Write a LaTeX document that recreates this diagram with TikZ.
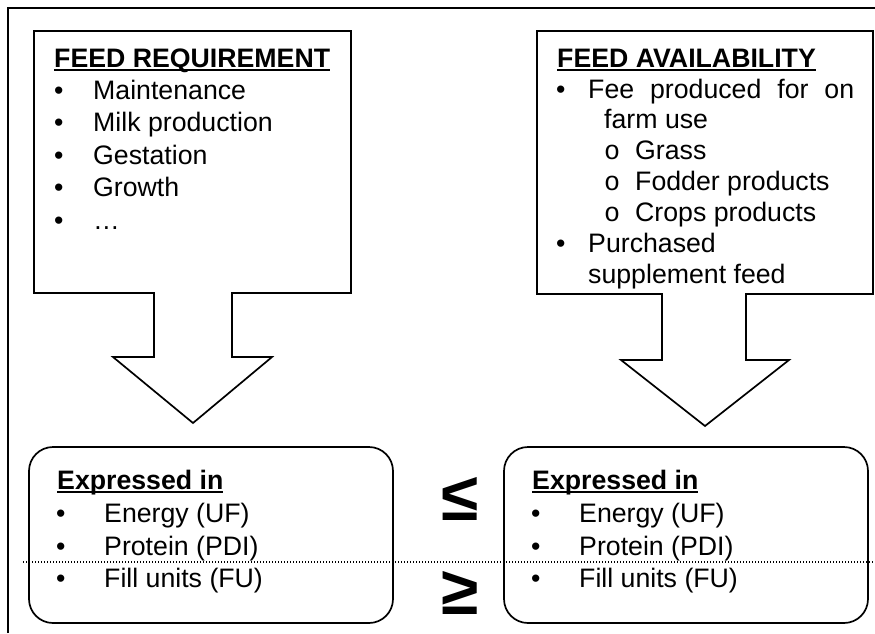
\documentclass[tikz,border=0pt]{standalone}
\usepackage{fontspec}
\setmainfont{Liberation Sans}
\newfontfamily\monof{Liberation Mono}
\newcommand\ulbox[1]{\setbox0=\hbox{#1}\rlap{\rule[-4.4pt]{\wd0}{2.3pt}}\box0}
\tikzset{
  outline/.style={draw=black, line width=1.7pt, line join=miter},
  txt/.style={anchor=base west, inner sep=0pt, font=\fontsize{26.7}{32}\selectfont},
  ttl/.style={txt, font=\fontsize{26.7}{32}\selectfont\bfseries},
  sym/.style={anchor=center, inner sep=0pt, font=\fontsize{68}{68}\selectfont\bfseries},
  dotline/.style={line width=1.3pt, dash pattern=on 1.2pt off 1.8pt}
}
\begin{document}
\begin{tikzpicture}[x=1pt,y=-1pt]
\useasboundingbox (0,0) rectangle (875,633);
% outer frame (cropped)
\draw[line width=1.7pt] (8,633) -- (8,8) -- (875,8);
% left callout with arrow
\draw[outline] (34,31) -- (351,31) -- (351,293) -- (232,293) -- (232,357) -- (272,357) -- (193,423) -- (113,357) -- (154,357) -- (154,293) -- (34,293) -- cycle;
% right callout with arrow
\draw[outline] (537,31) -- (873,31) -- (873,294) -- (746,294) -- (746,360) -- (789,360) -- (705,426) -- (621,360) -- (662,360) -- (662,294) -- (537,294) -- cycle;
% rounded boxes
\draw[outline, rounded corners=24pt] (29,447) rectangle (393,623);
\draw[outline, rounded corners=24pt] (504,447) rectangle (868,623);
% dotted line
\draw[dotline] (23,562) -- (875,562);
% left top text
\node[ttl] (rq) at (54,67) {\ulbox{FEED REQUIREMENT}};
\node[txt] (rqb1) at (54,99) {•};
\node[txt] (rq1) at (93,99) {Maintenance};
\node[txt] (rqb2) at (54,131.5) {•};
\node[txt] (rq2) at (93,131.5) {Milk production};
\node[txt] (rqb3) at (54,164) {•};
\node[txt] (rq3) at (93,164) {Gestation};
\node[txt] (rqb4) at (54,196.5) {•};
\node[txt] (rq4) at (93,196.5) {Growth};
\node[txt] (rqb5) at (54,229) {•};
\node[txt] (rq5) at (93,229) {…};
% right top text
\node[ttl] (av) at (557,67) {\ulbox{FEED AVAILABILITY}};
\node[txt] (avb1) at (556,98) {•};
\node[txt] (av1) at (588,98) {\hbox to 266pt{Fee\hfill produced\hfill for\hfill on}};
\node[txt] (av1b) at (604,128) {farm use};
\node[txt] (avo1) at (604,159) {\monof o};
\node[txt] (av2) at (635,159) {Grass};
\node[txt] (avo2) at (604,190) {\monof o};
\node[txt] (av3) at (635,190) {Fodder products};
\node[txt] (avo3) at (604,221) {\monof o};
\node[txt] (av4) at (635,221) {Crops products};
\node[txt] (avb2) at (556,252) {•};
\node[txt] (av5) at (588,252) {Purchased};
\node[txt] (av5b) at (588,283) {supplement feed};
% lower left text
\node[ttl] (exl) at (57,489) {\ulbox{Expressed in}};
\node[txt] (exlb1) at (56,522.5) {•};
\node[txt] (exl1) at (104,522.5) {Energy (UF)};
\node[txt] (exlb2) at (56,555) {•};
\node[txt] (exl2) at (104,555) {Protein (PDI)};
\node[txt] (exlb3) at (56,587.5) {•};
\node[txt] (exl3) at (104,587.5) {Fill units (FU)};
% lower right text
\node[ttl] (exr) at (532,489) {\ulbox{Expressed in}};
\node[txt] (exrb1) at (531,522.5) {•};
\node[txt] (exr1) at (579,522.5) {Energy (UF)};
\node[txt] (exrb2) at (531,555) {•};
\node[txt] (exr2) at (579,555) {Protein (PDI)};
\node[txt] (exrb3) at (531,587.5) {•};
\node[txt] (exr3) at (579,587.5) {Fill units (FU)};
% relation symbols
\node[sym] (le) at (460,499) {≤};
\node[sym] (ge) at (460,592.5) {≥};
\end{tikzpicture}
\end{document}
